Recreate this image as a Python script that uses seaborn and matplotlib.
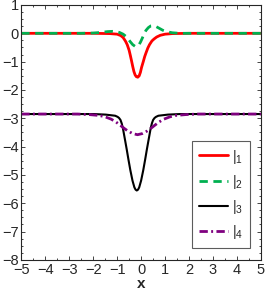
import numpy as np
import pandas as pd
import matplotlib
matplotlib.use('Agg')
import matplotlib.pyplot as plt
import seaborn as sns
from matplotlib.ticker import MultipleLocator

# values
x_red = [-5, -2, -1.3, -1.0, -0.85, -0.75, -0.65, -0.58, -0.5, -0.45, -0.4, -0.35, -0.3,
         -0.25, -0.2, -0.14, -0.08, -0.03, 0.02, 0.09, 0.15, 0.2, 0.28, 0.35, 0.45, 0.54,
         0.65, 0.8, 1.0, 1.3, 2, 5]
y_red = [0, 0, -0.01, -0.03, -0.08, -0.15, -0.28, -0.4, -0.6, -0.78, -0.97, -1.17, -1.35,
         -1.47, -1.53, -1.55, -1.5, -1.38, -1.2, -1.0, -0.82, -0.7, -0.52, -0.4, -0.27, -0.2,
         -0.13, -0.07, -0.03, -0.01, 0, 0]

x_green = [-5, -2.5, -2, -1.7, -1.4, -1.2, -1.05, -0.9, -0.75, -0.6, -0.45, -0.35, -0.25,
           -0.18, -0.1, -0.02, 0.05, 0.12, 0.2, 0.3, 0.4, 0.5, 0.6, 0.75, 0.9, 1.05, 1.3, 1.6, 5]
y_green = [0, 0, 0.01, 0.03, 0.06, 0.07, 0.06, 0.03, -0.03, -0.13, -0.3, -0.4, -0.46,
           -0.47, -0.42, -0.3, -0.17, -0.03, 0.1, 0.2, 0.26, 0.27, 0.25, 0.18, 0.11, 0.06, 0.02, 0.0, 0]

x_black = [-5, -1.98, -1.48, -1.18, -1.08, -0.98, -0.92, -0.86, -0.81, -0.76, -0.67, -0.6,
           -0.53, -0.45, -0.36, -0.28, -0.23, -0.18, -0.13, -0.08, 0.0, 0.09, 0.17, 0.24,
           0.31, 0.4, 0.45, 0.5, 0.56, 0.62, 0.72, 0.82, 1.12, 1.62, 5]
y_black = [-2.85, -2.85, -2.87, -2.9, -2.91, -2.95, -2.99, -3.06, -3.18, -3.35, -3.77, -4.1,
           -4.45, -4.83, -5.2, -5.44, -5.52, -5.55, -5.52, -5.44, -5.2, -4.83, -4.45, -4.1,
           -3.77, -3.35, -3.18, -3.06, -2.99, -2.95, -2.91, -2.9, -2.87, -2.85, -2.85]

x_purple = [-5, -2.65, -2.15, -1.75, -1.5, -1.25, -1.05, -0.88, -0.7, -0.55, -0.35, -0.15,
            0.05, 0.25, 0.4, 0.58, 0.75, 0.95, 1.2, 1.45, 1.85, 2.35, 5]
y_purple = [-2.85, -2.85, -2.87, -2.9, -2.95, -3.03, -3.13, -3.24, -3.36, -3.45, -3.54, -3.58,
            -3.54, -3.45, -3.36, -3.24, -3.13, -3.03, -2.95, -2.9, -2.87, -2.85, -2.85]

labels = [r'$|_1$', r'$|_2$', r'$|_3$', r'$|_4$']

sns.set_style('ticks')
plt.rcParams['font.family'] = ['Liberation Sans', 'DejaVu Sans']
plt.rcParams['mathtext.fontset'] = 'custom'
plt.rcParams['mathtext.rm'] = 'Liberation Sans'

fig, ax = plt.subplots(figsize=(2.66, 2.94), dpi=100)

sns.lineplot(x=x_red, y=y_red, ax=ax, color='#ff0000', lw=2, label=labels[0])
sns.lineplot(x=x_green, y=y_green, ax=ax, color='#00b050', lw=2, label=labels[1],
             linestyle=(0, (3, 2)))
sns.lineplot(x=x_black, y=y_black, ax=ax, color='black', lw=1.5, label=labels[2])
sns.lineplot(x=x_purple, y=y_purple, ax=ax, color='#7f007f', lw=2, label=labels[3],
             linestyle=(0, (3, 1.2, 0.7, 1.2)))

ax.set_xlim(-5, 5)
ax.set_ylim(-8, 1)
ax.xaxis.set_major_locator(MultipleLocator(1))
ax.xaxis.set_minor_locator(MultipleLocator(0.5))
ax.yaxis.set_major_locator(MultipleLocator(1))
ax.yaxis.set_minor_locator(MultipleLocator(0.25))
ax.tick_params(which='both', direction='in', top=True, right=True, labelsize=10.5,
               pad=2, width=0.6)
ax.tick_params(which='major', length=3)
ax.tick_params(which='minor', length=1.5)
for s in ax.spines.values():
    s.set_linewidth(0.8)
ax.set_xlabel('x', fontsize=11, fontweight='bold', labelpad=0)
ax.set_ylabel('')

leg = ax.legend(loc='lower right', bbox_to_anchor=(0.985, 0.018), fontsize=10.5,
                handlelength=2.0, handletextpad=0.3, labelspacing=0.5,
                borderpad=0.45, frameon=True, fancybox=False)
leg.get_frame().set_edgecolor('#333333')
leg.get_frame().set_linewidth(0.8)

plt.subplots_adjust(left=0.08, right=0.981, top=0.983, bottom=0.116)
plt.savefig('out.png', dpi=100)
plt.close()
